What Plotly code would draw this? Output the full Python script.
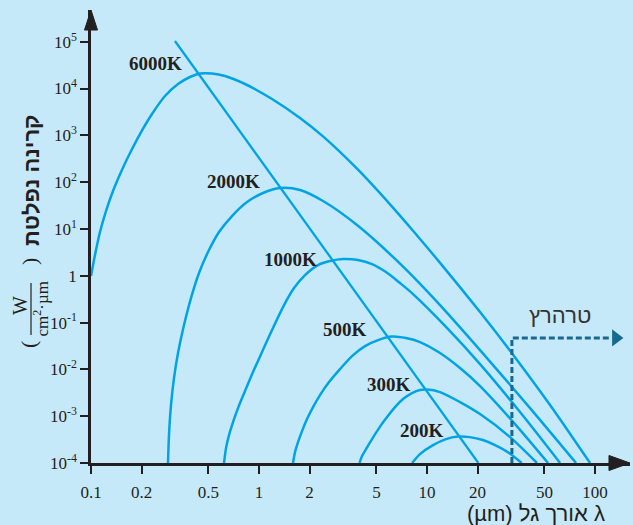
import plotly.graph_objects as go

# ---------------- data ----------------
# wavelength in micrometres, spectral exitance in W/(cm^2*um)
x_6000 = [0.1, 0.1056, 0.1131, 0.1228, 0.1352, 0.1509, 0.1707, 0.1957, 0.2307, 0.2758,
          0.3295, 0.3884, 0.4455, 0.5252, 0.6275, 0.8254, 1.195, 1.754, 2.404, 3.831,
          6.023, 8.254, 11.95, 20.68, 32.50, 53.96, 93.38]
y_6000 = [0.985, 2.768, 8.587, 24.13, 64.52, 164.4, 418.7, 1066, 2852, 6915,
          12480, 17610, 20920, 20920, 18500, 12480, 5965, 2343, 947.3, 193.3,
          33.54, 9.152, 1.886, 0.1676, 0.02061, 1.735e-3, 1e-4]

x_2000 = [0.2873, 0.2912, 0.2993, 0.3119, 0.3295, 0.3577, 0.3937, 0.4394, 0.4971, 0.5780,
          0.6908, 0.8483, 1.0564, 1.3335, 1.754, 2.404, 3.831, 6.906, 11.95, 20.68,
          41.03, 77.09]
y_2000 = [1e-4, 3.946e-4, 1.726e-3, 6.52e-3, 0.0223, 0.0884, 0.3338, 1.142, 3.209, 8.587,
          18.86, 37.57, 58.51, 74.78, 67.80, 39.46, 12.12, 1.814, 0.2366, 0.02585,
          1.49e-3, 1e-4]

x_1000 = [0.6190, 0.6362, 0.6629, 0.7003, 0.7499, 0.8254, 0.9211, 1.0420, 1.195, 1.3895,
          1.6156, 1.8786, 2.2445, 2.6462, 3.1623, 3.8857, 4.7058, 5.699, 6.906, 8.254,
          12.80, 20.68, 35.77, 61.90]
y_1000 = [1e-4, 2.08e-4, 3.946e-4, 7.48e-4, 1.49e-3, 3.438e-3, 8.76e-3, 0.02343, 0.06915, 0.2144,
          0.5461, 1.035, 1.692, 2.062, 2.274, 2.165, 1.778, 1.200, 0.6982, 0.4064,
          0.085, 0.01298, 1.224e-3, 1e-4]

x_500 = [1.5936, 1.6379, 1.7067, 1.8030, 1.9307, 2.0965, 2.307, 2.6102, 3.0345, 3.577,
         4.2756, 5.1102, 6.190, 7.499, 9.085, 11.95, 15.72, 20.68, 33.40, 52.52]
y_500 = [1e-4, 1.709e-4, 2.797e-4, 4.80e-4, 8.67e-4, 1.565e-3, 2.824e-3, 5.354e-3, 0.01015, 0.01924,
         0.03147, 0.04227, 0.05022, 0.04665, 0.03832, 0.0223, 0.01066, 4.397e-3, 6.78e-4, 1e-4]

x_300 = [3.9664, 4.103, 4.3349, 4.706, 5.179, 5.780, 6.450, 7.197, 8.142, 9.085,
         10.0, 11.95, 15.72, 20.68, 31.19, 45.15]
y_300 = [1e-4, 1.404e-4, 1.982e-4, 3.241e-4, 5.566e-4, 9.568e-4, 1.565e-3, 2.319e-3, 3.115e-3, 3.612e-3,
         3.702e-3, 3.273e-3, 2.001e-3, 1.109e-3, 3.576e-4, 1e-4]

x_200 = [8.15, 9.08, 10.86, 12.97, 15.3, 18.0, 21.5, 25.4, 29.9, 36.6]
y_200 = [1e-4, 1.55e-4, 2.41e-4, 3.24e-4, 3.66e-4, 3.57e-4, 3.09e-4, 2.41e-4, 1.75e-4, 1e-4]

# Wien displacement line
x_wien = [0.316, 20.2]
y_wien = [1.035e5, 1e-4]

# terahertz region marker
x_thz = [32.0, 32.0, 125.0]
y_thz = [1e-4, 0.047, 0.047]
x_thz_arrow = [133.0]
y_thz_arrow = [0.047]

curves = [("6000K", x_6000, y_6000), ("2000K", x_2000, y_2000), ("1000K", x_1000, y_1000),
          ("500K", x_500, y_500), ("300K", x_300, y_300), ("200K", x_200, y_200)]

x_tickvals = [0.1, 0.2, 0.5, 1, 2, 5, 10, 20, 50, 100]
x_ticktext = ["0.1", "0.2", "0.5", "1", "2", "5", "10", "20", "50", "100"]
y_tickvals = [1e-4, 1e-3, 1e-2, 1e-1, 1, 1e1, 1e2, 1e3, 1e4, 1e5]
y_ticktext = ["10<sup>-4</sup>", "10<sup>-3</sup>", "10<sup>-2</sup>", "10<sup>-1</sup>", "1",
              "10<sup>1</sup>", "10<sup>2</sup>", "10<sup>3</sup>", "10<sup>4</sup>", "10<sup>5</sup>"]

# label positions (paper coords)
labels = [("6000K", 0.1197, 0.883), ("2000K", 0.2653, 0.621), ("1000K", 0.370, 0.4503),
          ("500K", 0.4712, 0.2936), ("300K", 0.5538, 0.1733), ("200K", 0.6141, 0.0728)]

# ---------------- styling ----------------
BG = "#C6E9F9"
CURVE = "#00A4E4"
AXIS = "#231F20"
DASH = "#17698F"
SERIF = "Liberation Serif, Times New Roman, serif"
SANS = "Liberation Sans, DejaVu Sans, sans-serif"

fig = go.Figure()
for name, xs, ys in curves:
    fig.add_trace(go.Scatter(x=xs, y=ys, mode="lines", name=name,
                             line=dict(color=CURVE, width=2.5, shape="spline", smoothing=0.8),
                             hoverinfo="skip"))
fig.add_trace(go.Scatter(x=x_wien, y=y_wien, mode="lines", line=dict(color=CURVE, width=2.3),
                         hoverinfo="skip"))
fig.add_trace(go.Scatter(x=x_thz, y=y_thz, mode="lines",
                         line=dict(color=DASH, width=3, dash="6px,3px"), hoverinfo="skip"))
fig.add_trace(go.Scatter(x=x_thz_arrow, y=y_thz_arrow, mode="markers", cliponaxis=False,
                         marker=dict(symbol="triangle-right", size=15, color=DASH), hoverinfo="skip"))


def note(text, x, y, size, family, color=AXIS, angle=0):
    return dict(text=text, x=x, y=y, xref="paper", yref="paper", showarrow=False,
                xanchor="center", yanchor="middle", textangle=angle,
                font=dict(family=family, size=size, color=color))


ann = [note("<b>%s</b>" % t, xp, yp, 19, SERIF) for t, xp, yp in labels]
ann.append(note("טרהרץ", 0.870, 0.3267, 22, SANS, color="#333333"))
ann.append(note("(µm) אורך גל λ", 0.8247, -0.1104, 22, SANS))
ann.append(note("<b>קרינה נפלטת</b>", -0.1113, 0.6247, 22, SANS, angle=-90))
ann.append(note("W", -0.1317, 0.3466, 20, SERIF, angle=-90))
ann.append(note("cm<sup>2</sup>·µm", -0.0937, 0.34, 17, SERIF, angle=-90))
ann.append(note(")", -0.115, 0.4437, 22, SERIF, angle=-90))
ann.append(note("(", -0.115, 0.2605, 22, SERIF, angle=-90))

shapes = [
    dict(type="path", xref="paper", yref="paper", path="M 0.961,0.0166 L 1.0,0 L 0.961,-0.0166 Z",
         fillcolor=AXIS, line=dict(color=AXIS, width=1)),
    dict(type="path", xref="paper", yref="paper", path="M -0.01206,0.9558 L 0,1 L 0.01206,0.9558 Z",
         fillcolor=AXIS, line=dict(color=AXIS, width=1)),
    dict(type="line", xref="paper", yref="paper", x0=-0.1113, x1=-0.1113, y0=0.2826, y1=0.3974,
         line=dict(color=AXIS, width=1.2)),
]

fig.update_layout(
    width=633, height=525,
    margin=dict(l=91, r=3, t=10, b=62, autoexpand=False),
    paper_bgcolor=BG, plot_bgcolor=BG,
    showlegend=False,
    annotations=ann, shapes=shapes,
    xaxis=dict(type="log", range=[-1, 2.208], tickvals=x_tickvals, ticktext=x_ticktext,
               showline=True, linecolor=AXIS, linewidth=2.5, ticks="outside", ticklen=8,
               tickwidth=2, tickcolor=AXIS, showgrid=False, zeroline=False, automargin=False,
               ticklabelstandoff=4,
               tickfont=dict(family=SERIF, size=17, color=AXIS)),
    yaxis=dict(type="log", range=[-4, 5.677], tickvals=y_tickvals, ticktext=y_ticktext,
               showline=True, linecolor=AXIS, linewidth=2.5, ticks="outside", ticklen=8,
               tickwidth=2, tickcolor=AXIS, showgrid=False, zeroline=False, automargin=False,
               tickfont=dict(family=SERIF, size=17, color=AXIS)),
)

fig.write_html("out.html", config={"displayModeBar": False},
               post_script="document.body.style.margin='0px';"
                           "document.body.style.background='%s';" % BG)
